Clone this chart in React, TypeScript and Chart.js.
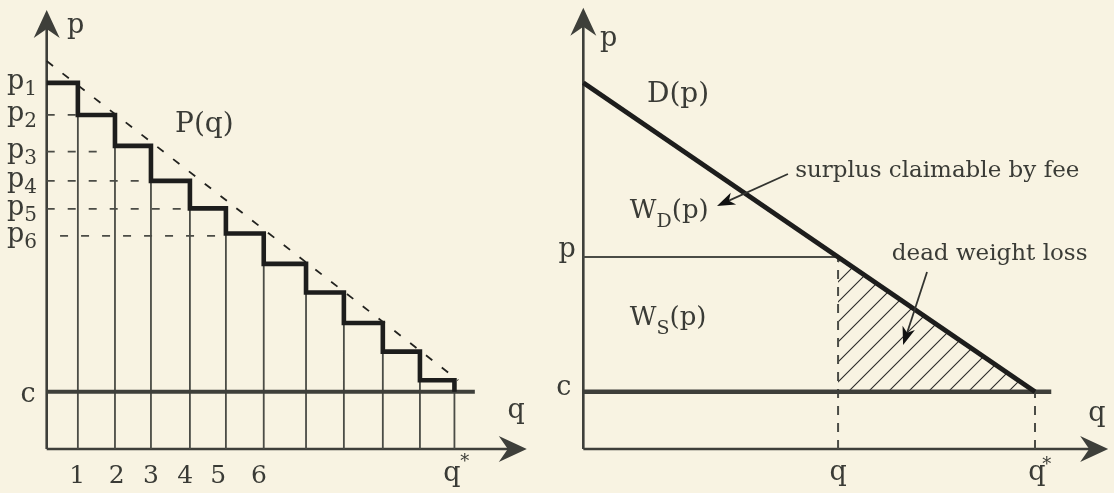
import React, { useEffect, useRef } from 'react';
import { Chart, registerables } from 'chart.js';

Chart.register(...registerables);

// ---------- Left panel: discrete price steps ----------
const stepQ = [0, 0.84, 1.84, 2.81, 3.86, 4.83, 5.85, 6.99, 8.01, 9.06, 10.06, 10.99];
const stepP = [6.39, 5.83, 5.29, 4.68, 4.2, 3.76, 3.23, 2.73, 2.2, 1.7, 1.2, 1.0];
const priceSubscripts = ['1', '2', '3', '4', '5', '6'];
const priceLevels = [6.39, 5.83, 5.19, 4.68, 4.19, 3.72];
const guideFromQ = [0, 0, 0, 0, 0, 0.36];
const guideToQ = [0, 0.84, 1.36, 2.81, 3.86, 4.83];
const tickLabels = ['1', '2', '3', '4', '5', '6'];
const tickQ = [0.82, 1.89, 2.81, 3.73, 4.62, 5.72];
const trendQ = [0, 11.09];
const trendP = [6.77, 1.2];
const costC = 1.0;
const leftCostEndQ = 11.54;
const leftAxisQMax = 12.94;
const leftAxisPMax = 7.66;

// ---------- Right panel: continuous demand ----------
const demandQ = [0, 10];
const demandP = [6.39, 1.0];
const feeP = 3.35;
const feeQ = 5.64;
const qStar = 10;
const rightCostEndQ = 10.36;
const rightAxisQMax = 11.62;
const rightAxisPMax = 7.7;

const BG = '#f8f3e2';
const INK = '#1d1d1c';
const AXIS = '#3e3f3a';
const THIN = '#4b4c46';
const TEXT = '#3a3b36';
const FONT = '"DejaVu Serif", serif';

const pts = (xs: number[], ys: number[]) => xs.map((x, i) => ({ x, y: ys[i] }));

function stealth(ctx: CanvasRenderingContext2D, tx: number, ty: number, ang: number, len: number, hw: number, notch: number) {
  const dx = Math.cos(ang), dy = Math.sin(ang);
  const bx = tx - dx * len, by = ty - dy * len;
  const nx = -dy, ny = dx;
  ctx.beginPath();
  ctx.moveTo(tx, ty);
  ctx.lineTo(bx + nx * hw, by + ny * hw);
  ctx.lineTo(tx - dx * notch, ty - dy * notch);
  ctx.lineTo(bx - nx * hw, by - ny * hw);
  ctx.closePath();
  ctx.fill();
}

type Part = { t: string; size?: number; dy?: number };
function math(ctx: CanvasRenderingContext2D, parts: Part[], x: number, y: number, align: 'left' | 'center' = 'left') {
  let total = 0;
  const widths = parts.map((p) => {
    ctx.font = `${p.size ?? 27}px ${FONT}`;
    const w = ctx.measureText(p.t).width;
    total += w;
    return w;
  });
  let cx = align === 'center' ? x - total / 2 : x;
  ctx.textAlign = 'left';
  ctx.textBaseline = 'alphabetic';
  parts.forEach((p, i) => {
    ctx.font = `${p.size ?? 27}px ${FONT}`;
    ctx.fillText(p.t, cx, y + (p.dy ?? 0));
    cx += widths[i];
  });
}

function arrowLine(ctx: CanvasRenderingContext2D, x1: number, y1: number, x2: number, y2: number) {
  const ang = Math.atan2(y2 - y1, x2 - x1);
  ctx.beginPath();
  ctx.moveTo(x1, y1);
  ctx.lineTo(x2 - Math.cos(ang) * 10, y2 - Math.sin(ang) * 10);
  ctx.stroke();
  stealth(ctx, x2, y2, ang, 18, 6.5, 13);
}

const overlay = {
  id: 'overlay',
  afterDatasetsDraw(chart: any) {
    const ctx: CanvasRenderingContext2D = chart.ctx;
    const X = (q: number) => chart.scales.x.getPixelForValue(q);
    const X2 = (q: number) => chart.scales.x2.getPixelForValue(q);
    const Y = (p: number) => chart.scales.y.getPixelForValue(p);
    ctx.save();
    ctx.fillStyle = AXIS;
    stealth(ctx, X(0), Y(leftAxisPMax), -Math.PI / 2, 28, 13, 19);
    stealth(ctx, X(leftAxisQMax), Y(0), 0, 28, 13, 19);
    stealth(ctx, X2(0), Y(rightAxisPMax), -Math.PI / 2, 28, 13, 19);
    stealth(ctx, X2(rightAxisQMax), Y(0), 0, 28, 13, 19);

    ctx.strokeStyle = '#333430';
    ctx.fillStyle = '#111';
    ctx.lineWidth = 1.8;
    arrowLine(ctx, X2(4.53), Y(4.8), X2(2.96), Y(4.24));
    arrowLine(ctx, X2(7.61), Y(3.09), X2(7.08), Y(1.815));

    ctx.fillStyle = TEXT;
    // left panel labels
    math(ctx, [{ t: 'p' }], X(0.55), Y(7.26));
    priceLevels.forEach((lv, i) => {
      math(ctx, [{ t: 'p' }, { t: priceSubscripts[i], size: 20, dy: 6 }], X(-1.07), Y(lv) + 6);
    });
    math(ctx, [{ t: 'c' }], X(-0.5), Y(0.82), 'center');
    math(ctx, [{ t: 'P(q)', size: 28 }], X(3.46), Y(5.53));
    tickLabels.forEach((t, i) => math(ctx, [{ t, size: 25 }], X(tickQ[i]), Y(-0.593), 'center'));
    math(ctx, [{ t: 'q' }], X(10.92), Y(-0.56), 'center');
    ctx.font = `18px ${FONT}`;
    ctx.textAlign = 'center';
    ctx.textBaseline = 'middle';
    ctx.fillText('*', X(10.92) + 13, Y(-0.56) - 19);
    math(ctx, [{ t: 'q' }], X(12.65), Y(0.54), 'center');

    // right panel labels
    math(ctx, [{ t: 'p' }], X2(0.37), Y(7.03));
    math(ctx, [{ t: 'D(p)', size: 28 }], X2(1.41), Y(6.06));
    math(ctx, [{ t: 'W', size: 26 }, { t: 'D', size: 19, dy: 9 }, { t: '(p)', size: 26 }], X2(1.03), Y(4.03));
    math(ctx, [{ t: 'W', size: 26 }, { t: 'S', size: 19, dy: 9 }, { t: '(p)', size: 26 }], X2(1.03), Y(2.16));
    math(ctx, [{ t: 'surplus claimable by fee', size: 23 }], X2(4.69), Y(4.75));
    math(ctx, [{ t: 'dead weight loss', size: 23 }], X2(6.83), Y(3.3));
    math(ctx, [{ t: 'p' }], X2(-0.36), Y(3.35), 'center');
    math(ctx, [{ t: 'c' }], X2(-0.43), Y(0.94), 'center');
    math(ctx, [{ t: 'q' }], X2(11.37), Y(0.49), 'center');
    math(ctx, [{ t: 'q' }], X2(feeQ), Y(-0.54), 'center');
    math(ctx, [{ t: 'q' }], X2(10.04), Y(-0.54), 'center');
    ctx.font = `18px ${FONT}`;
    ctx.textAlign = 'center';
    ctx.textBaseline = 'middle';
    ctx.fillText('*', X2(10.04) + 10, Y(-0.54) - 15);
    ctx.restore();
  },
};

export default function App() {
  const ref = useRef<HTMLCanvasElement>(null);
  useEffect(() => {
    const canvas = ref.current!;
    const ctx = canvas.getContext('2d')!;
    const pc = document.createElement('canvas');
    pc.width = 20;
    pc.height = 20;
    const g = pc.getContext('2d')!;
    g.strokeStyle = '#2a2a28';
    g.lineWidth = 1.1;
    g.beginPath();
    g.moveTo(-2, 22); g.lineTo(22, -2);
    g.moveTo(-12, 12); g.lineTo(12, -12);
    g.moveTo(8, 32); g.lineTo(32, 8);
    g.stroke();
    const pattern = ctx.createPattern(pc, 'repeat')!;

    const base = { pointRadius: 0, fill: false, tension: 0, borderCapStyle: 'butt', spanGaps: false };

    const verticals: any[] = [];
    for (let i = 1; i < stepQ.length; i++) {
      verticals.push({ x: stepQ[i], y: 0 }, { x: stepQ[i], y: stepP[i - 1] }, { x: stepQ[i], y: null });
    }
    const guides: any[] = [];
    priceLevels.forEach((lv, i) => {
      if (guideToQ[i] > guideFromQ[i]) guides.push({ x: guideFromQ[i], y: lv }, { x: guideToQ[i], y: lv }, { x: guideToQ[i], y: null });
    });

    const datasets: any[] = [
      // left (top-most first)
      { ...base, xAxisID: 'x', data: pts(stepQ, stepP), stepped: 'before', borderColor: INK, borderWidth: 4.6 },
      { ...base, xAxisID: 'x', data: [{ x: 0, y: costC }, { x: leftCostEndQ, y: costC }], borderColor: AXIS, borderWidth: 4 },
      { ...base, xAxisID: 'x', data: pts(trendQ, trendP), borderColor: '#22221f', borderWidth: 1.8, borderDash: [8, 12] },
      { ...base, xAxisID: 'x', data: guides, borderColor: THIN, borderWidth: 1.8, borderDash: [8, 13] },
      { ...base, xAxisID: 'x', data: verticals, borderColor: THIN, borderWidth: 1.8 },
      { ...base, xAxisID: 'x', data: [{ x: 0, y: 0 }, { x: 0, y: leftAxisPMax - 0.2 }], borderColor: AXIS, borderWidth: 2.6 },
      { ...base, xAxisID: 'x', data: [{ x: 0, y: 0 }, { x: leftAxisQMax - 0.3, y: 0 }], borderColor: AXIS, borderWidth: 2.6 },
      // right
      { ...base, xAxisID: 'x2', data: pts(demandQ, demandP), borderColor: INK, borderWidth: 4.8 },
      { ...base, xAxisID: 'x2', data: [{ x: 0, y: costC }, { x: rightCostEndQ, y: costC }], borderColor: AXIS, borderWidth: 4.5 },
      { ...base, xAxisID: 'x2', data: [{ x: 0, y: feeP }, { x: feeQ, y: feeP }], borderColor: THIN, borderWidth: 2 },
      { ...base, xAxisID: 'x2', data: [{ x: feeQ, y: 0 }, { x: feeQ, y: feeP }, { x: feeQ, y: null }, { x: qStar, y: 0 }, { x: qStar, y: costC }], borderColor: THIN, borderWidth: 2, borderDash: [9, 8] },
      { ...base, xAxisID: 'x2', data: [{ x: 0, y: 0 }, { x: 0, y: rightAxisPMax - 0.2 }], borderColor: AXIS, borderWidth: 2.6 },
      { ...base, xAxisID: 'x2', data: [{ x: 0, y: 0 }, { x: rightAxisQMax - 0.25, y: 0 }], borderColor: AXIS, borderWidth: 2.6 },
      { ...base, xAxisID: 'x2', data: [{ x: feeQ, y: feeP }, { x: qStar, y: costC }], borderWidth: 0, borderColor: 'rgba(0,0,0,0)', backgroundColor: pattern, fill: { value: costC } },
    ];

    const chart = new Chart(canvas, {
      type: 'line',
      data: { datasets },
      options: {
        animation: false,
        responsive: false,
        maintainAspectRatio: false,
        events: [],
        layout: { padding: 0, autoPadding: false },
        plugins: { legend: { display: false }, tooltip: { enabled: false } },
        scales: {
          x: { type: 'linear', axis: 'x', display: false, bounds: 'data', min: -1.2588, max: 28.768 },
          x2: { type: 'linear', axis: 'x', display: false, bounds: 'data', min: -12.914, max: 11.749 },
          y: { type: 'linear', axis: 'y', display: false, bounds: 'data', min: -0.768, max: 7.836 },
        },
      } as any,
      plugins: [overlay],
    });
    return () => chart.destroy();
  }, []);
  return (
    <div style={{ position: 'fixed', left: 0, top: 0, width: 1114, height: 493, background: BG }}>
      <canvas ref={ref} width={1114} height={493} style={{ display: 'block' }} />
    </div>
  );
}
